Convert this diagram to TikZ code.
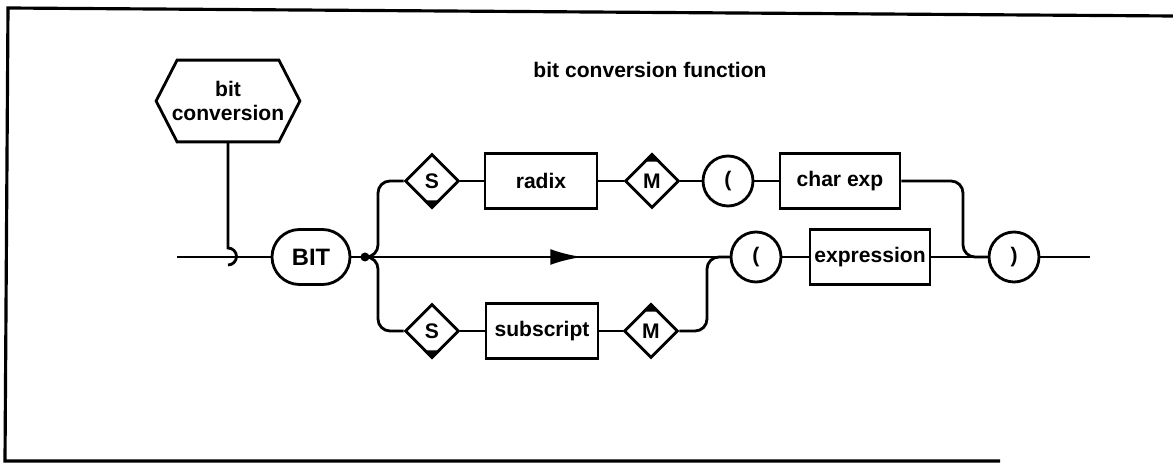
\documentclass[tikz,border=0pt]{standalone}
\usepackage{fontspec}
\setmainfont{Liberation Sans}
\usetikzlibrary{arrows.meta, positioning, shapes.geometric, shapes.misc}

\begin{document}
\begin{tikzpicture}[x=0.02cm, y=-0.02cm, line width=1.6pt,
  font=\fontsize{12}{14}\selectfont\bfseries,
  box/.style={draw, rectangle, minimum width=2.24cm, minimum height=1.1cm, inner sep=0pt},
  sel/.style={draw, diamond, aspect=1, minimum width=1.08cm, minimum height=1.08cm, inner sep=0pt},
  term/.style={draw, circle, minimum size=1cm, inner sep=0pt},
  kw/.style={draw, rounded rectangle, minimum width=1.56cm, minimum height=1.1cm, inner sep=0pt},
  curve/.style={rounded corners=0.24cm}]
  \useasboundingbox (0,0) rectangle (1173,465);

  % Frame
  \draw[line width=1.8pt] (1173,16) -- (8,8) -- (5,461) -- (1000,461);
  \node (title) at (650,70) {bit conversion function};

  % Name of the construct
  \node[minimum width=2.82cm, minimum height=1.58cm, align=center] (conv) at (228,101) {bit\\conversion};
  \draw (conv.west) -- ([xshift=0.42cm]conv.north west) -- ([xshift=-0.42cm]conv.north east)
    -- (conv.east) -- ([xshift=-0.42cm]conv.south east) -- ([xshift=0.42cm]conv.south west) -- cycle;

  % Main row
  \node[kw, font=\fontsize{13.5}{14}\selectfont\bfseries] (bit) at (311,257) {BIT};
  \node[term] (pa2) at (756,257) {(};
  \node[box, minimum width=2.4cm] (expr) at (870,257) {expression};
  \node[term] (pc) at (1014,257) {)};

  % Upper row
  \node[sel] (s1) at (432,181) {S};
  \node[box] (radix) at (541,181) {radix};
  \node[sel] (m1) at (652,181) {M};
  \node[term] (pa1) at (728,181) {(};
  \node[box, minimum width=2.4cm] (cexp) at (840,181) {char exp};

  % Lower row
  \node[sel] (s2) at (432,331) {S};
  \node[box] (subs) at (542,331) {subscript};
  \node[sel] (m2) at (651,331) {M};

  % markers on the diamonds
  \foreach \d in {s1,s2}
    \fill (\d.south) -- ++(-9,-9) -- ++(18,0) -- cycle;
  \foreach \d in {m1,m2}
    \fill (\d.north) -- ++(-9,9) -- ++(18,0) -- cycle;

  \coordinate (in) at (177,257);
  \coordinate (hk) at (228,248);
  \coordinate (j) at (365,257);
  \coordinate (jb) at (378,257);
  \coordinate (arr) at (582,257);
  \coordinate (jl) at (707,257);
  \coordinate (jr) at (963,257);
  \coordinate (out) at (1090,257);

  \draw (in) -- (bit.west);
  \draw (conv.south) -- (hk) arc[start angle=90, end angle=-90, radius=0.17cm];
  \draw (bit.east) -- (j);
  \fill (j) circle[radius=0.09cm];
  \draw (j) -- (pa2.west);
  \draw[-{Latex[length=18pt, width=9pt]}] (j) -- (arr);

  % upper branch
  \draw[curve] (j) -- (jb) |- (s1.west);
  \draw (s1) -- (radix) -- (m1) -- (pa1) -- (cexp);
  \draw[curve] (cexp.east) -| (jr) -- (pc.west);

  % lower branch
  \draw[curve] (j) -- (jb) |- (s2.west);
  \draw (s2) -- (subs) -- (m2);
  \draw[curve] (m2.east) -| (jl) -- (pa2.west);

  \draw (pa2) -- (expr) -- (pc) -- (out);
\end{tikzpicture}
\end{document}
